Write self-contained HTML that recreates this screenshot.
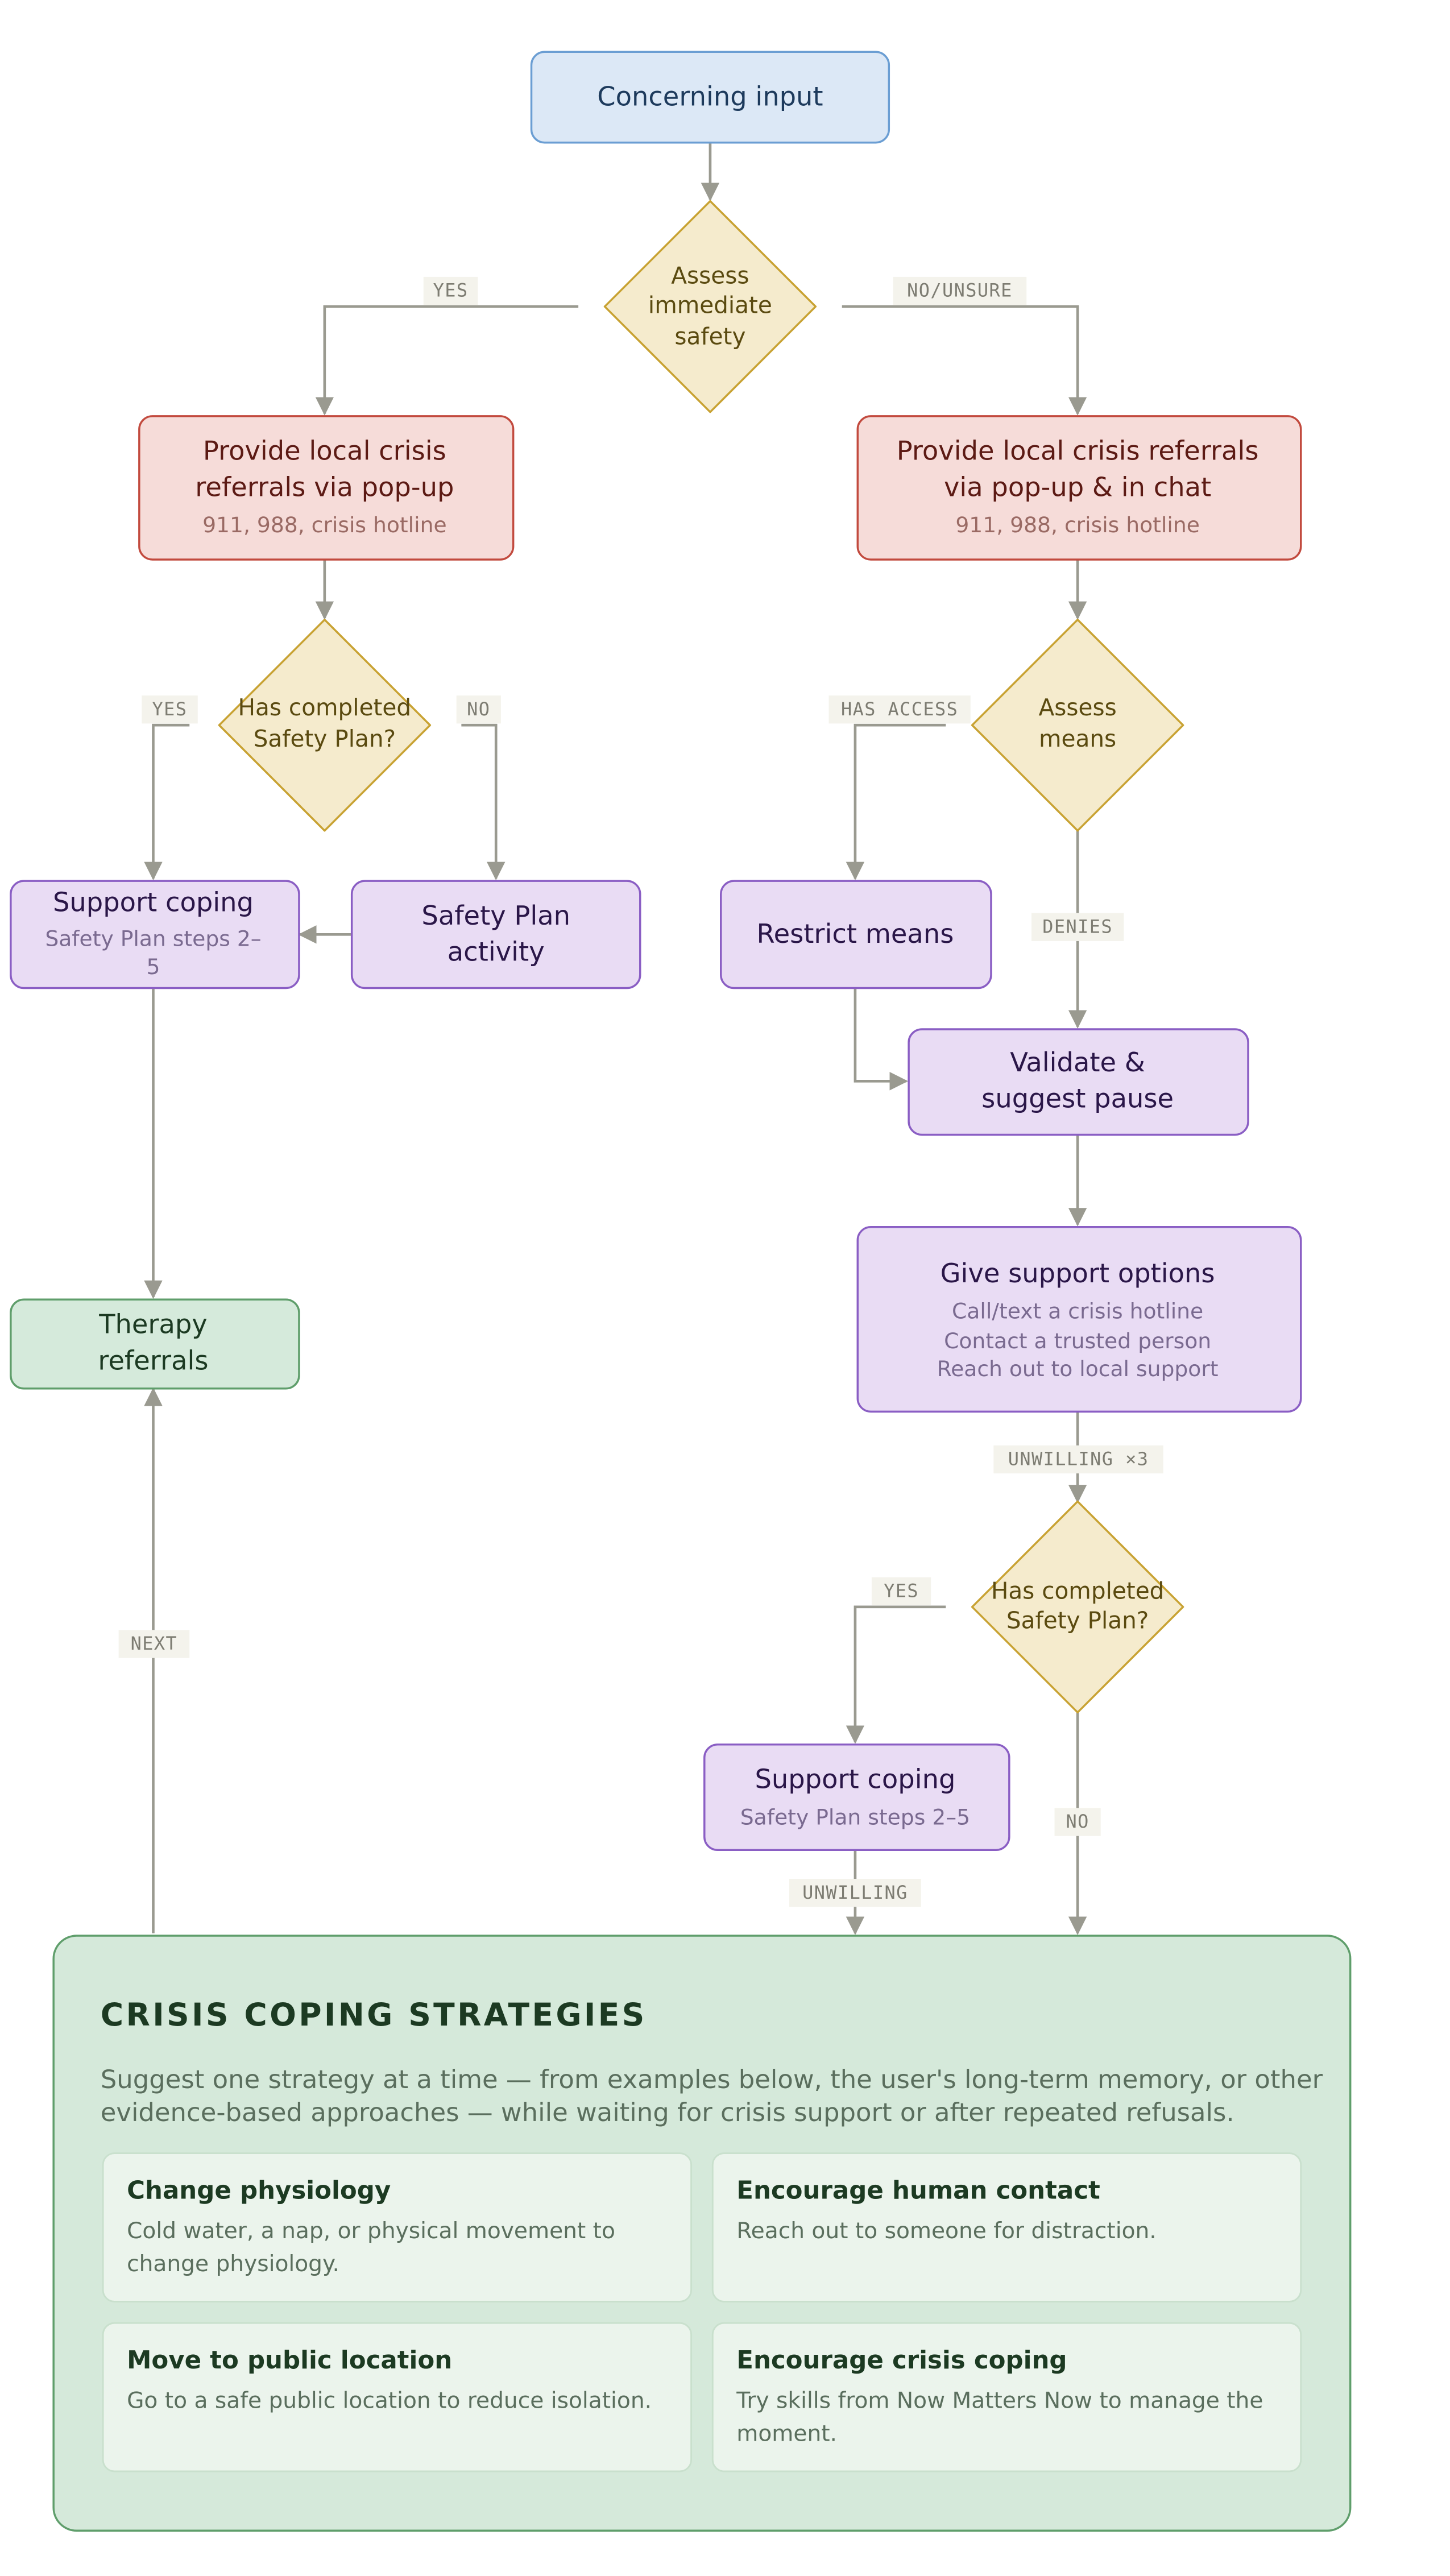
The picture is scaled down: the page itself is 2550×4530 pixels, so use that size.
<!DOCTYPE html>
<html><head><meta charset="utf-8"><style>
html,body{margin:0;padding:0;background:#fff;}
svg{display:block;}
text{font-family:"DejaVu Sans","Liberation Sans",sans-serif;}
.m{font-family:"DejaVu Sans Mono","Liberation Mono",monospace;font-size:11px;fill:#7d7c72;letter-spacing:0.5px;}
.lb{fill:#f4f3ec;}
.ln{stroke:#9a9a90;stroke-width:1.6;fill:none;}
.t{font-size:16px;text-anchor:middle;}
.s{font-size:13px;text-anchor:middle;}
.d{font-size:14px;text-anchor:middle;fill:#5a4a10;}
</style></head><body>
<svg width="2550" height="4530" viewBox="0 0 880 1563" preserveAspectRatio="none" xmlns="http://www.w3.org/2000/svg">
<defs><marker id="a" viewBox="0 0 10 10" refX="9" refY="5" markerWidth="7" markerHeight="7" orient="auto-start-reverse"><path d="M0,0L10,5L0,10z" fill="#9a9a90"/></marker></defs>
<rect width="880" height="1563" fill="#fff"/>
<!-- connectors -->
<path class="ln" d="M431,86V121" marker-end="url(#a)"/>
<path class="ln" d="M351,186H197V251" marker-end="url(#a)"/>
<path class="ln" d="M511,186H654V251" marker-end="url(#a)"/>
<path class="ln" d="M197,339V375" marker-end="url(#a)"/>
<path class="ln" d="M654,339V375" marker-end="url(#a)"/>
<path class="ln" d="M115,440H93V533" marker-end="url(#a)"/>
<path class="ln" d="M280,440H301V533" marker-end="url(#a)"/>
<path class="ln" d="M213,567H182" marker-end="url(#a)"/>
<path class="ln" d="M93,599V787" marker-end="url(#a)"/>
<path class="ln" d="M93,1173V843" marker-end="url(#a)"/>
<path class="ln" d="M574,440H519V533" marker-end="url(#a)"/>
<path class="ln" d="M654,504V623" marker-end="url(#a)"/>
<path class="ln" d="M519,599V656H550" marker-end="url(#a)"/>
<path class="ln" d="M654,688V743" marker-end="url(#a)"/>
<path class="ln" d="M654,856V911" marker-end="url(#a)"/>
<path class="ln" d="M574,975H519V1057" marker-end="url(#a)"/>
<path class="ln" d="M519,1122V1173" marker-end="url(#a)"/>
<path class="ln" d="M654,1039V1173" marker-end="url(#a)"/>
<!-- labels -->
<rect class="lb" x="257" y="168" width="33" height="17"/><text class="m" x="273.5" y="180" text-anchor="middle">YES</text>
<rect class="lb" x="542" y="168" width="81" height="17"/><text class="m" x="582.5" y="180" text-anchor="middle">NO/UNSURE</text>
<rect class="lb" x="86" y="422" width="34" height="17"/><text class="m" x="103" y="434" text-anchor="middle">YES</text>
<rect class="lb" x="277" y="422" width="27" height="17"/><text class="m" x="290.5" y="434" text-anchor="middle">NO</text>
<rect class="lb" x="503" y="422" width="86" height="17"/><text class="m" x="546" y="434" text-anchor="middle">HAS ACCESS</text>
<rect class="lb" x="626" y="554" width="56" height="17"/><text class="m" x="654" y="566" text-anchor="middle">DENIES</text>
<rect class="lb" x="603" y="877" width="103" height="17"/><text class="m" x="654.5" y="889" text-anchor="middle">UNWILLING ×3</text>
<rect class="lb" x="529" y="957" width="36" height="17"/><text class="m" x="547" y="969" text-anchor="middle">YES</text>
<rect class="lb" x="640" y="1097" width="28" height="17"/><text class="m" x="654" y="1109" text-anchor="middle">NO</text>
<rect class="lb" x="479" y="1140" width="80" height="17"/><text class="m" x="519" y="1152" text-anchor="middle">UNWILLING</text>
<rect class="lb" x="72" y="989" width="43" height="17"/><text class="m" x="93.5" y="1001" text-anchor="middle">NEXT</text>
<!-- nodes -->
<rect x="322.5" y="31.5" width="217" height="55" rx="8" fill="#dce8f6" stroke="#6b9ed3" stroke-width="1.2"/>
<text class="t" x="431" y="64" fill="#1d3a5c">Concerning input</text>
<path d="M431,122L495,186L431,250L367,186Z" fill="#f5ebcd" stroke="#c8a232" stroke-width="1.2" stroke-linejoin="round"/>
<text class="d" x="431" y="172">Assess</text><text class="d" x="431" y="190">immediate</text><text class="d" x="431" y="209">safety</text>
<rect x="84.5" y="252.5" width="227" height="87" rx="8" fill="#f6dcd9" stroke="#c24a3e" stroke-width="1.2"/>
<text class="t" x="197" y="279" fill="#5c1a14">Provide local crisis</text>
<text class="t" x="197" y="301" fill="#5c1a14">referrals via pop-up</text>
<text class="s" x="197" y="323" fill="#9a6a64">911, 988, crisis hotline</text>
<rect x="520.5" y="252.5" width="269" height="87" rx="8" fill="#f6dcd9" stroke="#c24a3e" stroke-width="1.2"/>
<text class="t" x="654" y="279" fill="#5c1a14">Provide local crisis referrals</text>
<text class="t" x="654" y="301" fill="#5c1a14">via pop-up &amp; in chat</text>
<text class="s" x="654" y="323" fill="#9a6a64">911, 988, crisis hotline</text>
<path d="M197,376L261,440L197,504L133,440Z" fill="#f5ebcd" stroke="#c8a232" stroke-width="1.2" stroke-linejoin="round"/>
<text class="d" x="197" y="434">Has completed</text><text class="d" x="197" y="453">Safety Plan?</text>
<path d="M654,376L718,440L654,504L590,440Z" fill="#f5ebcd" stroke="#c8a232" stroke-width="1.2" stroke-linejoin="round"/>
<text class="d" x="654" y="434">Assess</text><text class="d" x="654" y="453">means</text>
<rect x="6.5" y="534.5" width="175" height="65" rx="8" fill="#e9dcf4" stroke="#8a5ec4" stroke-width="1.2"/>
<text class="t" x="93" y="553" fill="#2a1648">Support coping</text>
<text class="s" x="93" y="574" fill="#7a6a90">Safety Plan steps 2–</text>
<text class="s" x="93" y="591" fill="#7a6a90">5</text>
<rect x="213.5" y="534.5" width="175" height="65" rx="8" fill="#e9dcf4" stroke="#8a5ec4" stroke-width="1.2"/>
<text class="t" x="301" y="561" fill="#2a1648">Safety Plan</text><text class="t" x="301" y="583" fill="#2a1648">activity</text>
<rect x="437.5" y="534.5" width="164" height="65" rx="8" fill="#e9dcf4" stroke="#8a5ec4" stroke-width="1.2"/>
<text class="t" x="519" y="572" fill="#2a1648">Restrict means</text>
<rect x="551.5" y="624.5" width="206" height="64" rx="8" fill="#e9dcf4" stroke="#8a5ec4" stroke-width="1.2"/>
<text class="t" x="654" y="650" fill="#2a1648">Validate &amp;</text><text class="t" x="654" y="672" fill="#2a1648">suggest pause</text>
<rect x="6.5" y="788.5" width="175" height="54" rx="8" fill="#d5eadb" stroke="#5f9e6b" stroke-width="1.2"/>
<text class="t" x="93" y="809" fill="#1c3a22">Therapy</text><text class="t" x="93" y="831" fill="#1c3a22">referrals</text>
<rect x="520.5" y="744.5" width="269" height="112" rx="8" fill="#e9dcf4" stroke="#8a5ec4" stroke-width="1.2"/>
<text class="t" x="654" y="778" fill="#2a1648">Give support options</text>
<text class="s" x="654" y="800" fill="#7a6a90">Call/text a crisis hotline</text>
<text class="s" x="654" y="818" fill="#7a6a90">Contact a trusted person</text>
<text class="s" x="654" y="835" fill="#7a6a90">Reach out to local support</text>
<path d="M654,911L718,975L654,1039L590,975Z" fill="#f5ebcd" stroke="#c8a232" stroke-width="1.2" stroke-linejoin="round"/>
<text class="d" x="654" y="970">Has completed</text><text class="d" x="654" y="988">Safety Plan?</text>
<rect x="427.5" y="1058.5" width="185" height="64" rx="8" fill="#e9dcf4" stroke="#8a5ec4" stroke-width="1.2"/>
<text class="t" x="519" y="1085" fill="#2a1648">Support coping</text>
<text class="s" x="519" y="1107" fill="#7a6a90">Safety Plan steps 2–5</text>
<!-- big box -->
<rect x="32.5" y="1174.5" width="787" height="361" rx="14" fill="#d5e9da" stroke="#5f9e6b" stroke-width="1.2"/>
<text x="61" y="1229" font-size="19" font-weight="bold" letter-spacing="1.5" fill="#1c3a22">CRISIS COPING STRATEGIES</text>
<text x="61" y="1267" font-size="15.5" fill="#5a6e5d">Suggest one strategy at a time — from examples below, the user's long-term memory, or other</text>
<text x="61" y="1287" font-size="15.5" fill="#5a6e5d">evidence-based approaches — while waiting for crisis support or after repeated refusals.</text>
<g stroke="#c9e0cd" stroke-width="1" fill="#ebf4ec">
<rect x="62.5" y="1306.5" width="357" height="90" rx="7"/>
<rect x="432.5" y="1306.5" width="357" height="90" rx="7"/>
<rect x="62.5" y="1409.5" width="357" height="90" rx="7"/>
<rect x="432.5" y="1409.5" width="357" height="90" rx="7"/>
</g>
<g font-size="15" font-weight="bold" fill="#1c3a22">
<text x="77" y="1334">Change physiology</text>
<text x="447" y="1334">Encourage human contact</text>
<text x="77" y="1437">Move to public location</text>
<text x="447" y="1437">Encourage crisis coping</text>
</g>
<g font-size="13.5" fill="#5a6e5d">
<text x="77" y="1358">Cold water, a nap, or physical movement to</text>
<text x="77" y="1378">change physiology.</text>
<text x="447" y="1358">Reach out to someone for distraction.</text>
<text x="77" y="1461">Go to a safe public location to reduce isolation.</text>
<text x="447" y="1461">Try skills from Now Matters Now to manage the</text>
<text x="447" y="1481">moment.</text>
</g>
</svg>
</body></html>
